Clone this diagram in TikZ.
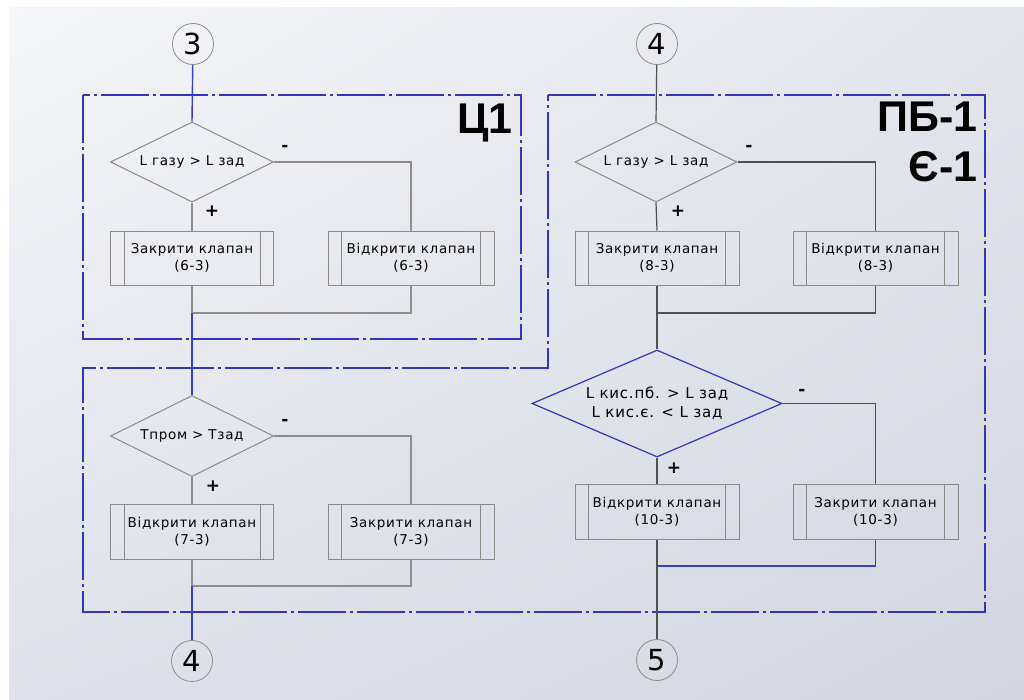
\documentclass[tikz,border=0pt]{standalone}
\usepackage{fontspec}
\setmainfont{DejaVu Sans}
\newfontfamily\ff[LetterSpace=5]{DejaVu Sans}
\newfontfamily\lblfont{Liberation Sans}
\usetikzlibrary{shapes.geometric,calc,shadings}
\definecolor{bgUL}{HTML}{F5F6F9}
\definecolor{bgUR}{HTML}{E2E5EC}
\definecolor{bgLL}{HTML}{DEE1E9}
\definecolor{bgLR}{HTML}{D3D6DF}
\definecolor{frameblue}{HTML}{3434C4}
\definecolor{trunkblue}{HTML}{3C3CCC}
\definecolor{flowgray}{HTML}{8E8E8E}
\definecolor{darkflow}{HTML}{505050}
\definecolor{boxgray}{HTML}{8A8A8A}
\tikzset{
  frame/.style={draw=frameblue, line width=1.5pt, dash pattern=on 48pt off 4pt on 3pt off 4pt},
  flow/.style={draw=flowgray, line width=1.2pt},
  dflow/.style={draw=darkflow, line width=1.2pt},
  bflow/.style={draw=trunkblue, line width=1.4pt},
  dec/.style={diamond, draw=boxgray, line width=1pt, inner sep=0pt, align=center, aspect=2.1,
    font=\ff\fontsize{13.5}{16}\selectfont},
  proc/.style={rectangle, draw=boxgray, line width=1pt, inner sep=0pt, align=center,
    font=\ff\fontsize{13.5}{17}\selectfont,
    path picture={
      \draw[boxgray, line width=1pt] ([xshift=13.5pt]path picture bounding box.north west) -- ([xshift=13.5pt]path picture bounding box.south west);
      \draw[boxgray, line width=1pt] ([xshift=-13.5pt]path picture bounding box.north east) -- ([xshift=-13.5pt]path picture bounding box.south east);
    }},
  conn/.style={circle, draw=flowgray, line width=0.8pt, minimum size=41pt, inner sep=0pt,
    font=\fontsize{29}{29}\selectfont},
  sign/.style={font=\bfseries\fontsize{17}{17}\selectfont, inner sep=0pt},
  big/.style={font=\lblfont\bfseries\fontsize{43}{43}\selectfont, inner sep=0pt}
}
\begin{document}
\begin{tikzpicture}[x=1pt,y=-1pt]
\useasboundingbox (0,0) rectangle (1024,699);
\fill[white] (0,0) rectangle (1024,699);
\shade[upper left=bgUL, upper right=bgUR, lower left=bgLL, lower right=bgLR] (9,7) rectangle (1024,699);

% frames
\draw[frame] (83,95) rectangle (521,339);
\draw[frame] (548,95) -- (985,95) -- (985,612) -- (83,612) -- (83,368) -- (548,368) -- cycle;

\node[big, anchor=north east] (lc1) at (513,104) {Ц1};
\node[big, anchor=north east] (lpb) at (978,102) {ПБ-1};
\node[big, anchor=north east] (le1) at (978,151) {Є-1};

% left column
\node[conn] (c3) at (193,44) {3};
\node[dec, minimum width=163pt, minimum height=80pt] (d1) at (192,162) {L газу > L зад};
\node[proc, minimum width=163pt, minimum height=54pt] (b1) at (192,258) {Закрити клапан\\(6-3)};
\node[proc, minimum width=166pt, minimum height=54pt] (b2) at (411,258) {Відкрити клапан\\(6-3)};
\coordinate (m1) at (192,313);
\node[dec, minimum width=163pt, minimum height=81pt] (d2) at (192,436) {Тпром > Тзад};
\node[proc, minimum width=163pt, minimum height=55pt] (b3) at (192,531.5) {Відкрити клапан\\(7-3)};
\node[proc, minimum width=166pt, minimum height=55pt] (b4) at (411,531.5) {Закрити клапан\\(7-3)};
\coordinate (m2) at (192,586);
\node[conn] (c4a) at (192,661) {4};

\node[sign] (p1) at (212,211) {+};
\node[sign] (n1) at (285,148) {-};
\node[sign] (p2) at (213,486) {+};
\node[sign] (n2) at (285,422) {-};

\draw[bflow] (c3) -- (d1.north);
\draw[flow] (d1.south) -- (b1.north);
\draw[flow] (d1.east) -| (b2.north);
\draw[flow] (b1.south) -- (m1);
\draw[flow] (b2.south) |- (m1);
\draw[bflow] (m1) -- (d2.north);
\draw[flow] (d2.south) -- (b3.north);
\draw[flow] (d2.east) -| (b4.north);
\draw[flow] (b3.south) -- (m2);
\draw[flow] (b4.south) |- (m2);
\draw[bflow] (m2) -- (c4a);

% right column
\node[conn] (c4b) at (657,44) {4};
\node[dec, minimum width=162pt, minimum height=80pt] (d3) at (656,162) {L газу > L зад};
\node[proc, minimum width=164pt, minimum height=54pt] (b5) at (657,258) {Закрити клапан\\(8-3)};
\node[proc, minimum width=165pt, minimum height=54pt] (b6) at (875.5,258) {Відкрити клапан\\(8-3)};
\coordinate (m3) at (657,313);
\node[dec, draw=frameblue, line width=1.2pt, minimum width=250pt, minimum height=107pt, aspect=2.34,
  font=\ff\fontsize{15}{19}\selectfont] (d4) at (657,403.5) {L кис.пб. > L зад\\L кис.є. < L зад};
\node[proc, minimum width=164pt, minimum height=55pt] (b7) at (657,511.5) {Відкрити клапан\\(10-3)};
\node[proc, minimum width=165pt, minimum height=55pt] (b8) at (875.5,511.5) {Закрити клапан\\(10-3)};
\coordinate (m4) at (657,566);
\coordinate (m5) at (875.5,566);
\coordinate (k1) at (875.5,403.5);
\node[conn] (c5) at (657,660) {5};

\node[sign] (p3) at (678,211) {+};
\node[sign] (n3) at (749,148) {-};
\node[sign] (p4) at (674,468) {+};
\node[sign] (n4) at (802,392) {-};

\draw[dflow] (c4b) -- (d3.north);
\draw[dflow] (d3.south) -- (b5.north);
\draw[dflow] (d3.east) -| (b6.north);
\draw[dflow] (b5.south) -- (m3);
\draw[dflow] (b6.south) |- (m3);
\draw[dflow] (m3) -- (d4.north);
\draw[dflow] (d4.south) -- (b7.north);
\draw[bflow] (d4.east) -- (k1);
\draw[dflow] (k1) -- (b8.north);
\draw[dflow] (b8.south) -- (m5);
\draw[bflow] (m5) -- (m4);
\draw[dflow] (b7.south) -- (c5);
\end{tikzpicture}
\end{document}
